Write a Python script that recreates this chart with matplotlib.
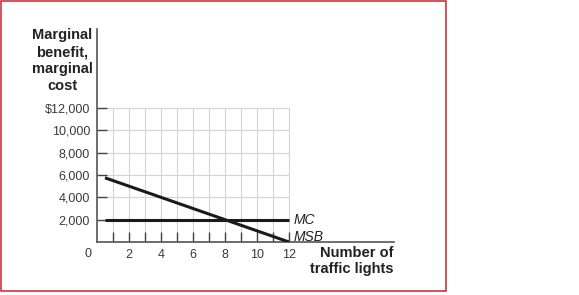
import numpy as np
import matplotlib
matplotlib.use("Agg")
import matplotlib.pyplot as plt
from matplotlib.patches import Rectangle

plt.rcParams["font.family"] = ["Liberation Sans", "DejaVu Sans"]

# data
LIGHTS = np.arange(1, 13)
MSB_X = [0.5, 12]
MSB_Y = [5750, 0]
MC_X = [0.5, 12]
MC_Y = [2000, 2000]
YTICKS = [2000, 4000, 6000, 8000, 10000, 12000]
YTICK_LABELS = ["2,000", "4,000", "6,000", "8,000", "10,000", "$12,000"]
XTICKS = [2, 4, 6, 8, 10, 12]

W, H = 579, 295
fig = plt.figure(figsize=(W / 100, H / 100), dpi=100)

# red frame round the panel
fig.patches.append(Rectangle((1 / W, 1 - 291 / H), 445 / W, 290 / H,
                             transform=fig.transFigure, fill=False,
                             ec="#c4262c", lw=1.1))

x0, x1 = 97, 394          # pixel extents of the axes
y0, y1 = 242, 29
ax = fig.add_axes([x0 / W, 1 - y0 / H, (x1 - x0) / W, (y0 - y1) / H])
ax.set_xlim(0, (x1 - x0) / 16.0)
ax.set_ylim(0, (y0 - y1) / 22.33 * 2000)

for s in ("top", "right"):
    ax.spines[s].set_visible(False)
for s in ("left", "bottom"):
    ax.spines[s].set_color("#555555")
    ax.spines[s].set_linewidth(1.2)

# grid only in the 12 x 12,000 box
ax.vlines(LIGHTS, 0, 12000, color="#d4d4d4", lw=0.8, zorder=1)
ax.hlines(YTICKS, 0, 12, color="#d4d4d4", lw=0.8, zorder=1)

ax.set_xticks(LIGHTS, minor=True)
ax.set_xticks(XTICKS)
ax.set_xticklabels([str(v) for v in XTICKS])
ax.set_yticks(YTICKS)
ax.set_yticklabels(YTICK_LABELS)
ax.tick_params(axis="both", which="both", direction="in", length=7,
               width=1.0, color="#444444", labelsize=9, labelcolor="#3a3a3a")
ax.tick_params(axis="x", pad=5)
ax.tick_params(axis="y", pad=5)

ax.plot(MC_X, MC_Y, color="#1a1a1a", lw=2.2, zorder=3, solid_capstyle="butt")
ax.plot(MSB_X, MSB_Y, color="#1a1a1a", lw=2.2, zorder=3, solid_capstyle="butt")

ax.text(12.3, 2000, "MC", style="italic", fontsize=10, color="#222222",
        va="center", ha="left")
ax.text(12.3, 450, "MSB", style="italic", fontsize=10, color="#222222",
        va="center", ha="left")

fig.text(88 / W, 1 - 254 / H, "0", fontsize=9, color="#3a3a3a",
         ha="center", va="center")
fig.text(394 / W, 1 - 246 / H, "Number of\ntraffic lights", fontsize=10.5,
         fontweight="bold", color="#222222", ha="right", va="top",
         linespacing=1.2)
fig.text(62 / W, 1 - 28 / H, "Marginal\nbenefit,\nmarginal\ncost",
         fontsize=10.5, fontweight="bold", color="#222222", ha="center",
         va="top", multialignment="center", linespacing=1.28)

fig.savefig("out.png", dpi=100)
